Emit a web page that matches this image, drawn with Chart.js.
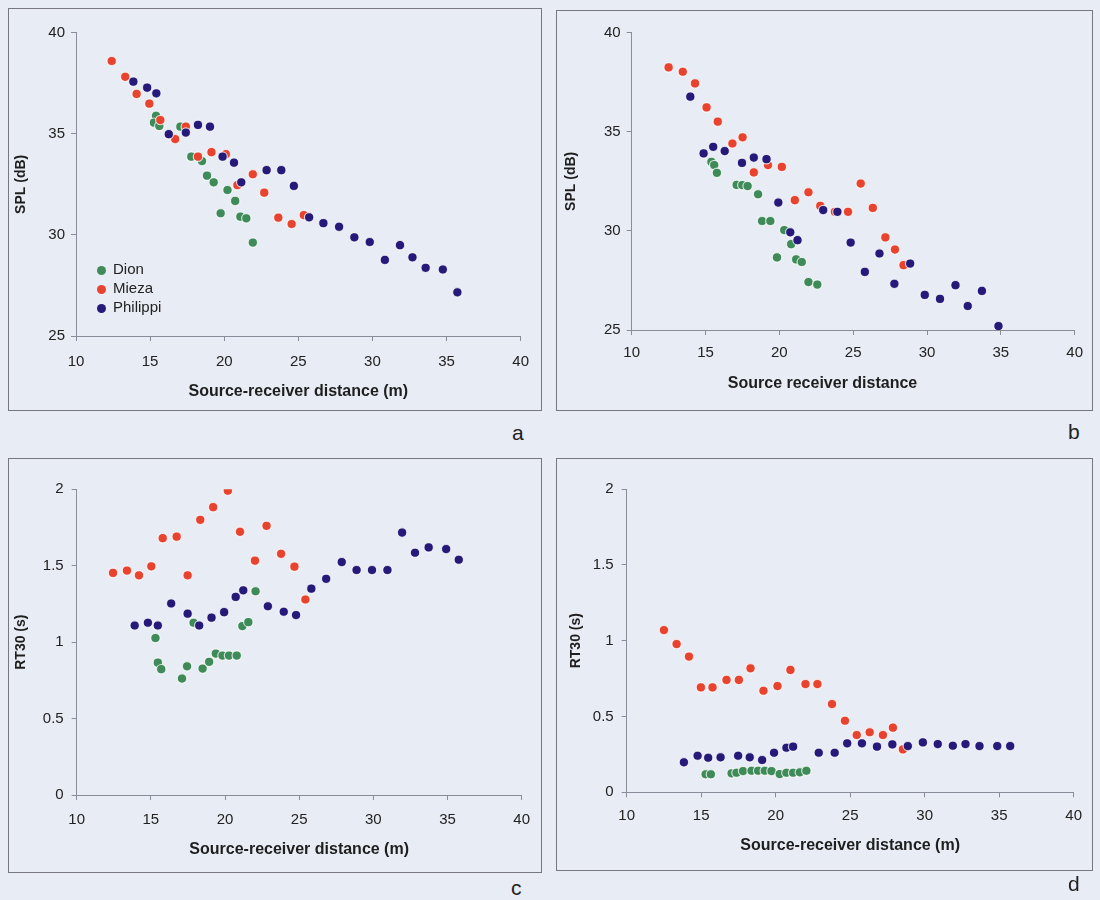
<!DOCTYPE html>
<html><head><meta charset="utf-8">
<script src="https://cdn.jsdelivr.net/npm/chart.js@4.4.1/dist/chart.umd.min.js"></script>
<style>
body{margin:0;background:#e8ecf4;width:1100px;height:900px;position:relative;overflow:hidden;font-family:"Liberation Sans",Arial,sans-serif;}
.wrap{position:absolute;}
.box{position:absolute;border:1px solid #77777f;box-sizing:border-box;pointer-events:none;}
.lab{position:absolute;font-size:21px;color:#222;line-height:1;}
.legend{position:absolute;left:97px;top:259px;font-size:15px;color:#222;line-height:19px;}
.legend div{white-space:nowrap;}
.dot{display:inline-block;width:9px;height:9px;border-radius:50%;margin-right:7px;vertical-align:-1px;}
</style></head>
<body>
<div class="wrap" id="wa" style="left:8px;top:8px"><canvas id="ca" width="533" height="402"></canvas></div>
<div class="wrap" id="wb" style="left:556px;top:10px"><canvas id="cb" width="536" height="400"></canvas></div>
<div class="wrap" id="wc" style="left:8px;top:458px"><canvas id="cc" width="533" height="414"></canvas></div>
<div class="wrap" id="wd" style="left:556px;top:458px"><canvas id="cd" width="536" height="412"></canvas></div>
<div class="box" style="left:8px;top:8px;width:534px;height:403px"></div>
<div class="box" style="left:556px;top:10px;width:537px;height:401px"></div>
<div class="box" style="left:8px;top:458px;width:534px;height:415px"></div>
<div class="box" style="left:556px;top:458px;width:537px;height:413px"></div>
<div class="lab" style="left:512px;top:422px">a</div>
<div class="lab" style="left:1068px;top:421px">b</div>
<div class="lab" style="left:511px;top:877px">c</div>
<div class="lab" style="left:1068px;top:873px">d</div>
<div class="legend" id="legend"></div>
<script>
// ---------- DATA ----------
const seriesNames = ['Dion', 'Mieza', 'Philippi'];
const xTicks = [10, 15, 20, 25, 30, 35, 40];
const splTicks = [25, 30, 35, 40];
const rtTicks = [0, 0.5, 1, 1.5, 2];

// Panel a: SPL (dB) vs source-receiver distance (m)
const a_dion = [[15.4,35.89],[15.26,35.55],[15.62,35.39],[17.04,35.35],[17.78,33.87],[18.5,33.65],[18.84,32.93],[19.29,32.6],[20.22,32.22],[20.74,31.68],[19.76,31.07],[21.09,30.9],[21.49,30.82],[21.93,29.62]];
const a_mieza = [[12.41,38.6],[13.32,37.82],[14.09,36.97],[14.95,36.49],[15.69,35.68],[17.41,35.35],[16.69,34.74],[18.23,33.87],[19.14,34.09],[20.11,33.99],[21.93,33.0],[20.89,32.46],[22.7,32.09],[23.65,30.85],[24.55,30.54],[25.37,30.98]];
const a_philippi = [[13.87,37.58],[14.8,37.28],[15.42,37.0],[16.26,34.98],[17.41,35.06],[18.23,35.44],[19.04,35.35],[19.89,33.87],[20.66,33.57],[21.15,32.6],[22.86,33.2],[23.85,33.2],[24.7,32.42],[25.73,30.87],[26.69,30.58],[27.75,30.4],[28.78,29.88],[29.82,29.65],[30.84,28.76],[31.86,29.49],[32.7,28.89],[33.59,28.37],[34.75,28.29],[35.73,27.16]];

// Panel b: SPL (dB) vs source receiver distance
const b_dion = [[15.4,33.48],[15.59,33.32],[15.77,32.93],[17.11,32.32],[17.49,32.31],[17.85,32.26],[18.56,31.85],[18.83,30.5],[19.39,30.5],[20.33,30.04],[20.8,29.33],[19.84,28.66],[21.14,28.56],[21.52,28.43],[21.97,27.42],[22.57,27.29]];
const b_mieza = [[12.5,38.25],[13.46,38.03],[14.29,37.44],[15.07,36.23],[15.83,35.51],[16.82,34.41],[17.51,34.72],[19.23,33.32],[18.27,32.95],[20.17,33.23],[21.05,31.55],[21.97,31.95],[25.51,32.39],[22.77,31.26],[23.76,30.96],[24.65,30.96],[26.33,31.16],[27.18,29.67],[27.83,29.06],[28.41,28.27]];
const b_philippi = [[13.97,36.77],[14.87,33.91],[15.52,34.24],[16.3,34.03],[17.47,33.43],[18.27,33.7],[19.13,33.62],[19.93,31.43],[22.97,31.05],[23.93,30.96],[20.74,29.93],[21.23,29.53],[24.83,29.41],[25.79,27.93],[26.78,28.86],[27.79,27.33],[28.86,28.35],[29.85,26.77],[30.88,26.57],[31.93,27.26],[32.76,26.21],[33.72,26.97],[34.84,25.2]];

// Panel c: RT30 (s) vs source-receiver distance (m)
const c_dion = [[15.31,1.027],[15.47,0.866],[15.7,0.823],[17.1,0.762],[17.44,0.842],[17.88,1.127],[18.49,0.827],[18.93,0.871],[19.38,0.925],[19.83,0.912],[20.27,0.912],[20.79,0.912],[21.17,1.105],[21.57,1.131],[22.06,1.333]];
const c_mieza = [[12.45,1.453],[13.39,1.468],[14.2,1.437],[15.03,1.496],[15.8,1.68],[16.74,1.69],[17.48,1.437],[18.33,1.8],[19.2,1.883],[20.19,1.991],[21.01,1.722],[22.02,1.533],[22.8,1.761],[23.78,1.578],[24.68,1.494],[25.42,1.279]];
const c_philippi = [[13.91,1.109],[14.8,1.127],[15.47,1.109],[16.37,1.253],[17.48,1.186],[18.26,1.109],[19.09,1.16],[19.94,1.196],[20.72,1.296],[21.23,1.339],[22.89,1.235],[23.96,1.199],[24.79,1.177],[25.82,1.35],[26.82,1.414],[27.87,1.524],[28.87,1.472],[29.91,1.472],[30.95,1.472],[31.94,1.717],[32.81,1.585],[33.73,1.62],[34.91,1.609],[35.76,1.539]];

// Panel d: RT30 (s) vs source-receiver distance (m)
const d_dion = [[15.3,0.119],[15.65,0.119],[17.04,0.125],[17.37,0.129],[17.81,0.14],[18.38,0.142],[18.82,0.142],[19.27,0.142],[19.72,0.14],[20.27,0.12],[20.72,0.129],[21.17,0.129],[21.62,0.132],[22.06,0.142]];
const d_mieza = [[12.5,1.07],[13.35,0.978],[14.18,0.895],[14.98,0.692],[15.76,0.692],[16.7,0.741],[17.53,0.741],[18.31,0.818],[19.18,0.67],[20.12,0.701],[20.99,0.807],[22.0,0.714],[22.8,0.714],[23.78,0.582],[24.65,0.472],[25.44,0.378],[26.31,0.396],[27.2,0.378],[27.87,0.426],[28.54,0.283]];
const d_philippi = [[13.84,0.198],[14.76,0.241],[15.47,0.228],[16.3,0.231],[17.48,0.241],[18.26,0.231],[19.09,0.213],[19.89,0.261],[20.72,0.294],[21.17,0.301],[22.89,0.261],[23.96,0.261],[24.8,0.323],[25.79,0.323],[26.8,0.301],[27.83,0.316],[28.87,0.305],[29.88,0.329],[30.88,0.318],[31.89,0.307],[32.74,0.318],[33.68,0.305],[34.87,0.305],[35.74,0.305]];

// ---------- STYLE ----------
const colors = ['#3e8a58', '#e8432f', '#25197a'];
const axisColor = '#8a8c99';
const FONT = '"Liberation Sans", Arial, sans-serif';
Chart.defaults.font.family = FONT;
Chart.defaults.color = '#222222';

function toPts(arr){ return arr.map(p => ({x:p[0], y:p[1]})); }

function makeChart(id, sets, o){
  const datasets = sets.map((s, i) => ({
    label: seriesNames[i],
    data: toPts(s),
    backgroundColor: colors[i],
    borderColor: 'rgba(255,255,255,0.75)',
    borderWidth: 1.2,
    pointRadius: 4.7,
    order: 2 - i
  }));
  const plugins = [];
  if (o.customXTitle){
    plugins.push({id:'xt', afterDraw(ch){
      const c = ch.ctx; c.save();
      c.font = 'bold 16px ' + FONT; c.fillStyle = '#1e1e1e';
      c.textAlign = 'center'; c.textBaseline = 'middle';
      c.fillText(o.customXTitle.text, o.customXTitle.x, o.customXTitle.y);
      c.restore();
    }});
  }
  return new Chart(document.getElementById(id), {
    type: 'scatter',
    data: {datasets},
    plugins,
    options: {
      responsive: false, animation: false, devicePixelRatio: 1,
      layout: {padding: {left: 0, top: o.top, right: o.right, bottom: 0}},
      plugins: {legend: {display: false}, tooltip: {enabled: false}},
      scales: {
        x: {
          type: 'linear', position: 'bottom', min: 10, max: 40,
          afterBuildTicks: s => { s.ticks = xTicks.map(v => ({value: v})); },
          ticks: {padding: o.xTickPad, font: {size: 15}, color: '#222', callback: v => String(v)},
          grid: {drawOnChartArea: false, drawTicks: true, tickLength: 5, color: axisColor},
          border: {display: true, color: axisColor, width: 1},
          title: {display: !o.customXTitle, text: o.xTitle, font: {size: 16, weight: 'bold'}, color: '#1e1e1e', padding: {top: 0, bottom: o.xTitlePad}},
          afterFit: s => { s.height = o.xH; }
        },
        y: {
          type: 'linear', position: 'left', min: o.yMin, max: o.yMax,
          afterBuildTicks: s => { s.ticks = o.yTicks.map(v => ({value: v})); },
          ticks: {padding: o.yTickPad, font: {size: 15}, color: '#222', callback: v => String(v)},
          grid: {drawOnChartArea: false, drawTicks: true, tickLength: 5, color: axisColor},
          border: {display: true, color: axisColor, width: 1},
          title: {display: true, text: o.yTitle, font: {size: 14, weight: 'bold'}, color: '#1e1e1e', padding: {top: o.yTitlePad, bottom: 0}},
          afterFit: s => { s.width = o.left; }
        }
      }
    }
  });
}

makeChart('ca', [a_dion, a_mieza, a_philippi], {
  left: 68, right: 13, top: 24.7, xH: 74, xTickPad: 12, yTickPad: 6,
  xTitle: 'Source-receiver distance (m)', xTitlePad: 9, yTitle: 'SPL (dB)', yTitlePad: 5,
  yMin: 25, yMax: 40, yTicks: splTicks
});
makeChart('cb', [b_dion, b_mieza, b_philippi], {
  left: 75.7, right: 13.7, top: 22.7, xH: 80, xTickPad: 9, yTickPad: 6,
  xTitle: 'Source receiver distance', xTitlePad: 16, yTitle: 'SPL (dB)', yTitlePad: 7,
  customXTitle: {text: 'Source receiver distance', x: 266.5, y: 374},
  yMin: 25, yMax: 40, yTicks: splTicks
});
makeChart('cc', [c_dion, c_mieza, c_philippi], {
  left: 68.7, right: 16.7, top: 31.3, xH: 77, xTickPad: 11, yTickPad: 8,
  xTitle: 'Source-receiver distance (m)', xTitlePad: 13, yTitle: 'RT30 (s)', yTitlePad: 5,
  yMin: 0, yMax: 2, yTicks: rtTicks
});
makeChart('cd', [d_dion, d_mieza, d_philippi], {
  left: 70.7, right: 17.7, top: 31.1, xH: 77.7, xTickPad: 10, yTickPad: 8,
  xTitle: 'Source-receiver distance (m)', xTitlePad: 14.5, yTitle: 'RT30 (s)', yTitlePad: 12,
  yMin: 0, yMax: 2, yTicks: rtTicks
});

// legend (panel a)
const lg = document.getElementById('legend');
seriesNames.forEach((n, i) => {
  const d = document.createElement('div');
  const dot = document.createElement('span');
  dot.className = 'dot'; dot.style.background = colors[i];
  d.appendChild(dot); d.appendChild(document.createTextNode(n));
  lg.appendChild(d);
});
</script>
</body></html>
